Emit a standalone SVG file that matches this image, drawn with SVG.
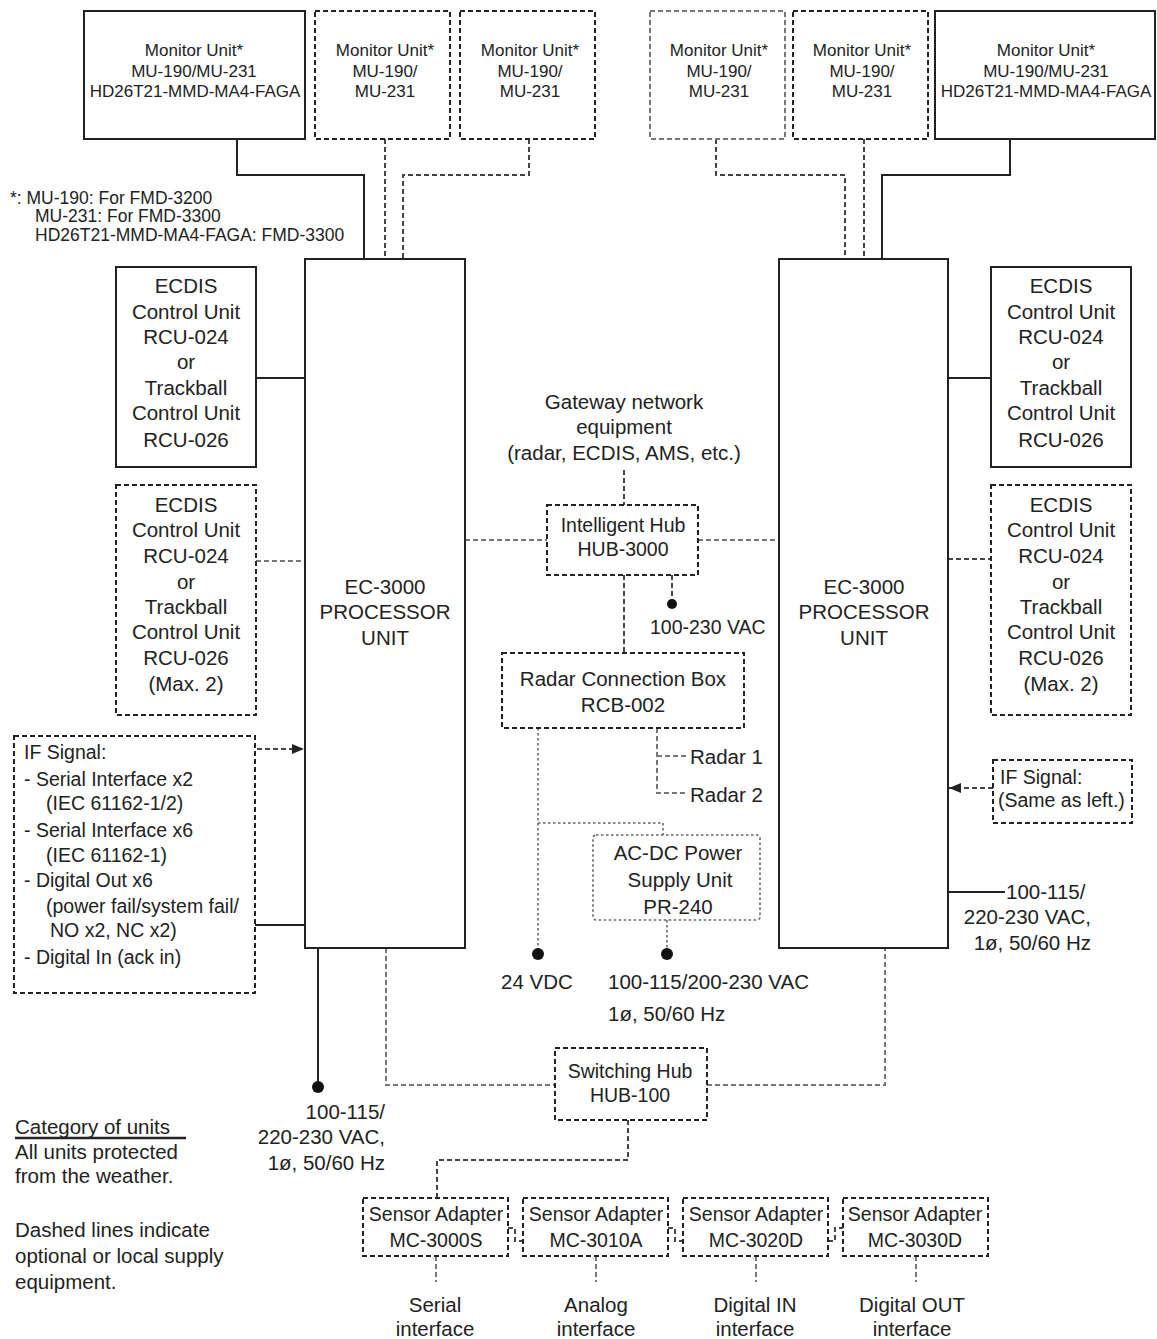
<svg xmlns="http://www.w3.org/2000/svg" width="1157" height="1339" viewBox="0 0 1157 1339">
<style>
text{font-family:"Liberation Sans",Arial,sans-serif;fill:#222;}
.t{font-size:20.5px;text-anchor:middle;}
.m{font-size:17px;text-anchor:middle;}
.l{font-size:19.5px;}
.s{font-size:19.5px;text-anchor:middle;}
.solid{fill:#fff;stroke:#222;stroke-width:2;}
.dbox{fill:#fff;stroke:#222;stroke-width:2;stroke-dasharray:5 3;}
.dotbox{fill:#fff;stroke:#666;stroke-width:1.6;stroke-dasharray:2.5 2.5;}
.w{fill:none;stroke:#222;stroke-width:2;}
.dw{fill:none;stroke:#444;stroke-width:2;stroke-dasharray:5 3;}
.gw{fill:none;stroke:#777;stroke-width:2;stroke-dasharray:5 3;}
.pw{fill:none;stroke:#666;stroke-width:1.6;stroke-dasharray:2.5 2.5;}
.dot{fill:#111;}
</style>
<defs>
<marker id="arr" viewBox="0 0 10 10" refX="10" refY="5" markerWidth="12" markerHeight="10" orient="auto-start-reverse" markerUnits="userSpaceOnUse" preserveAspectRatio="none"><path d="M0,0 L10,5 L0,10 z" fill="#222"/></marker>
</defs>
<rect width="1157" height="1339" fill="#fff"/>

<g id="connectors">
<path class="w" d="M237,139 V175 H364 V259"/>
<path class="dw" d="M385,139 V259"/>
<path class="dw" d="M529,139 V175 H403 V259"/>
<path class="dw" d="M716,139 V175 H845 V259"/>
<path class="dw" d="M864,139 V259"/>
<path class="w" d="M1010,139 V175 H882 V259"/>
<path class="w" d="M256,378 H305"/>
<path class="gw" d="M256,561 H305"/>
<path class="w" d="M948,378 H991"/>
<path class="dw" d="M948,559 H991"/>
<path class="dw" d="M624,470 V505"/>
<path class="gw" d="M465,540 H547"/>
<path class="gw" d="M698,540 H779"/>
<path class="dw" d="M672,575 V603"/>
<circle class="dot" cx="672" cy="604" r="5"/>
<path class="dw" d="M624,575 V653"/>
<path class="gw" d="M657,728 V793 H688 M657,756 H688"/>
<path class="pw" d="M538,728 V952"/>
<path class="pw" d="M538,823 H663 V835"/>
<path class="pw" d="M667,920 V952"/>
<circle class="dot" cx="538" cy="954" r="6"/>
<circle class="dot" cx="667" cy="954" r="6"/>
<path class="dw" d="M257,749 H304" marker-end="url(#arr)"/>
<path class="w" d="M255,925 H305"/>
<path class="dw" d="M993,788 H949" marker-end="url(#arr)"/>
<path class="w" d="M948,892 H1005"/>
<path class="w" d="M318,948 V1085"/>
<circle class="dot" cx="318" cy="1087" r="6"/>
<path class="gw" d="M386,948 V1085 H555"/>
<path class="gw" d="M707,1085 H885 V948"/>
<path class="dw" d="M628,1120 V1160 H437 V1198"/>
<path class="dw" d="M508,1228 H515 V1241 H523"/>
<path class="dw" d="M668,1228 H675 V1241 H683"/>
<path class="dw" d="M828,1241 H835 V1228 H843"/>
<path class="gw" d="M436,1256 V1282 M596,1256 V1282 M756,1256 V1282 M916,1256 V1282"/>
</g>

<g id="monitor1"><rect class="solid" x="84" y="11" width="221" height="128"/>
<text class="m" x="194" y="56">Monitor Unit*</text><text class="m" x="194" y="77">MU-190/MU-231</text><text class="m" x="195" y="97">HD26T21-MMD-MA4-FAGA</text></g>
<g id="monitor2"><rect class="dbox" x="315" y="11" width="135" height="128"/>
<text class="m" x="385" y="56">Monitor Unit*</text><text class="m" x="385" y="77">MU-190/</text><text class="m" x="385" y="97">MU-231</text></g>
<g id="monitor3"><rect class="dbox" x="460" y="11" width="135" height="128"/>
<text class="m" x="530" y="56">Monitor Unit*</text><text class="m" x="530" y="77">MU-190/</text><text class="m" x="530" y="97">MU-231</text></g>
<g id="monitor4"><rect class="gw" x="650" y="11" width="135" height="128" style="fill:#fff"/>
<text class="m" x="719" y="56">Monitor Unit*</text><text class="m" x="719" y="77">MU-190/</text><text class="m" x="719" y="97">MU-231</text></g>
<g id="monitor5"><rect class="dbox" x="793" y="11" width="135" height="128"/>
<text class="m" x="862" y="56">Monitor Unit*</text><text class="m" x="862" y="77">MU-190/</text><text class="m" x="862" y="97">MU-231</text></g>
<g id="monitor6"><rect class="solid" x="935" y="11" width="220" height="128"/>
<text class="m" x="1046" y="56">Monitor Unit*</text><text class="m" x="1046" y="77">MU-190/MU-231</text><text class="m" x="1046" y="97">HD26T21-MMD-MA4-FAGA</text></g>

<g id="footnote">
<text x="10" y="204" style="font-size:17.5px">*: MU-190: For FMD-3200</text>
<text x="35" y="222" style="font-size:17.5px">MU-231: For FMD-3300</text>
<text x="35" y="241" style="font-size:17.5px">HD26T21-MMD-MA4-FAGA: FMD-3300</text>
</g>

<g id="processor-left"><rect class="solid" x="305" y="259" width="160" height="689"/>
<text class="t" x="385" y="594">EC-3000</text><text class="t" x="385" y="619">PROCESSOR</text><text class="t" x="385" y="645">UNIT</text></g>
<g id="processor-right"><rect class="solid" x="779" y="259" width="169" height="689"/>
<text class="t" x="864" y="594">EC-3000</text><text class="t" x="864" y="619">PROCESSOR</text><text class="t" x="864" y="645">UNIT</text></g>

<g id="ecdis-left"><rect class="solid" x="116" y="267" width="140" height="200"/>
<text class="t" x="186" y="293">ECDIS</text><text class="t" x="186" y="319">Control Unit</text><text class="t" x="186" y="344">RCU-024</text><text class="t" x="186" y="369">or</text><text class="t" x="186" y="395">Trackball</text><text class="t" x="186" y="420">Control Unit</text><text class="t" x="186" y="447">RCU-026</text></g>
<g id="ecdis-left-opt"><rect class="dbox" x="116" y="485" width="140" height="230"/>
<text class="t" x="186" y="512">ECDIS</text><text class="t" x="186" y="537">Control Unit</text><text class="t" x="186" y="563">RCU-024</text><text class="t" x="186" y="589">or</text><text class="t" x="186" y="614">Trackball</text><text class="t" x="186" y="639">Control Unit</text><text class="t" x="186" y="665">RCU-026</text><text class="t" x="186" y="691">(Max. 2)</text></g>
<g id="ecdis-right"><rect class="solid" x="991" y="267" width="140" height="200"/>
<text class="t" x="1061" y="293">ECDIS</text><text class="t" x="1061" y="319">Control Unit</text><text class="t" x="1061" y="344">RCU-024</text><text class="t" x="1061" y="369">or</text><text class="t" x="1061" y="395">Trackball</text><text class="t" x="1061" y="420">Control Unit</text><text class="t" x="1061" y="447">RCU-026</text></g>
<g id="ecdis-right-opt"><rect class="dbox" x="991" y="485" width="140" height="230"/>
<text class="t" x="1061" y="512">ECDIS</text><text class="t" x="1061" y="537">Control Unit</text><text class="t" x="1061" y="563">RCU-024</text><text class="t" x="1061" y="589">or</text><text class="t" x="1061" y="614">Trackball</text><text class="t" x="1061" y="639">Control Unit</text><text class="t" x="1061" y="665">RCU-026</text><text class="t" x="1061" y="691">(Max. 2)</text></g>

<g id="gateway">
<text class="t" x="624" y="409">Gateway network</text><text class="t" x="624" y="434">equipment</text><text class="t" x="624" y="460">(radar, ECDIS, AMS, etc.)</text></g>
<g id="hub3000"><rect class="dbox" x="547" y="505" width="151" height="70"/>
<text class="s" x="623" y="532">Intelligent Hub</text><text class="s" x="623" y="556">HUB-3000</text></g>
<text class="l" x="650" y="634">100-230 VAC</text>

<g id="rcb"><rect class="dbox" x="502" y="653" width="242" height="75"/>
<text class="t" x="623" y="686">Radar Connection Box</text><text class="t" x="623" y="712">RCB-002</text></g>
<text class="t" x="690" y="764" style="text-anchor:start">Radar 1</text>
<text class="t" x="690" y="802" style="text-anchor:start">Radar 2</text>

<g id="psu"><rect class="dotbox" x="593" y="835" width="167" height="85" rx="3"/>
<text class="t" x="678" y="860">AC-DC Power</text><text class="t" x="680" y="887">Supply Unit</text><text class="t" x="678" y="914">PR-240</text></g>
<text class="t" x="537" y="989">24 VDC</text>
<text class="t" x="608" y="989" style="text-anchor:start">100-115/200-230 VAC</text>
<text class="t" x="608" y="1021" style="text-anchor:start">1ø, 50/60 Hz</text>

<g id="if-left"><rect class="dbox" x="14" y="736" width="241" height="257"/>
<text class="l" x="24" y="759">IF Signal:</text>
<text class="l" x="24" y="786">- Serial Interface x2</text>
<text class="l" x="46" y="810">(IEC 61162-1/2)</text>
<text class="l" x="24" y="837">- Serial Interface x6</text>
<text class="l" x="46" y="862">(IEC 61162-1)</text>
<text class="l" x="24" y="887">- Digital Out x6</text>
<text class="l" x="46" y="913">(power fail/system fail/</text>
<text class="l" x="50" y="937">NO x2, NC x2)</text>
<text class="l" x="24" y="964">- Digital In (ack in)</text></g>

<g id="if-right"><rect class="dbox" x="993" y="760" width="139" height="63"/>
<text class="l" x="1000" y="784">IF Signal:</text>
<text class="l" x="998" y="807">(Same as left.)</text></g>

<g id="power-right">
<text class="t" x="1006" y="899" style="text-anchor:start">100-115/</text>
<text class="t" x="1091" y="924" style="text-anchor:end">220-230 VAC,</text>
<text class="t" x="1091" y="950" style="text-anchor:end">1ø, 50/60 Hz</text></g>
<g id="power-left">
<text class="t" x="385" y="1119" style="text-anchor:end">100-115/</text>
<text class="t" x="385" y="1144" style="text-anchor:end">220-230 VAC,</text>
<text class="t" x="385" y="1170" style="text-anchor:end">1ø, 50/60 Hz</text></g>

<g id="hub100"><rect class="dbox" x="555" y="1048" width="152" height="72"/>
<text class="s" x="630" y="1078">Switching Hub</text><text class="s" x="630" y="1102">HUB-100</text></g>

<g id="sa1"><rect class="dbox" x="363" y="1198" width="145" height="58"/>
<text class="s" x="436" y="1221">Sensor Adapter</text><text class="s" x="436" y="1247">MC-3000S</text></g>
<g id="sa2"><rect class="dbox" x="523" y="1198" width="145" height="58"/>
<text class="s" x="596" y="1221">Sensor Adapter</text><text class="s" x="596" y="1247">MC-3010A</text></g>
<g id="sa3"><rect class="dbox" x="683" y="1198" width="145" height="58"/>
<text class="s" x="756" y="1221">Sensor Adapter</text><text class="s" x="756" y="1247">MC-3020D</text></g>
<g id="sa4"><rect class="dbox" x="843" y="1198" width="145" height="58"/>
<text class="s" x="915" y="1221">Sensor Adapter</text><text class="s" x="915" y="1247">MC-3030D</text></g>

<g id="interfaces">
<text class="t" x="435" y="1312">Serial</text><text class="t" x="435" y="1336">interface</text>
<text class="t" x="596" y="1312">Analog</text><text class="t" x="596" y="1336">interface</text>
<text class="t" x="755" y="1312">Digital IN</text><text class="t" x="755" y="1336">interface</text>
<text class="t" x="912" y="1312">Digital OUT</text><text class="t" x="912" y="1336">interface</text></g>

<g id="legend">
<text x="15" y="1134" style="font-size:20.5px">Category of units</text>
<line x1="15" y1="1138" x2="186" y2="1138" stroke="#222" stroke-width="2.5"/>
<text x="15" y="1159" style="font-size:20.5px">All units protected</text>
<text x="15" y="1183" style="font-size:20.5px">from the weather.</text>
<text x="15" y="1237" style="font-size:20.5px">Dashed lines indicate</text>
<text x="15" y="1263" style="font-size:20.5px">optional or local supply</text>
<text x="15" y="1289" style="font-size:20.5px">equipment.</text></g>
</svg>
